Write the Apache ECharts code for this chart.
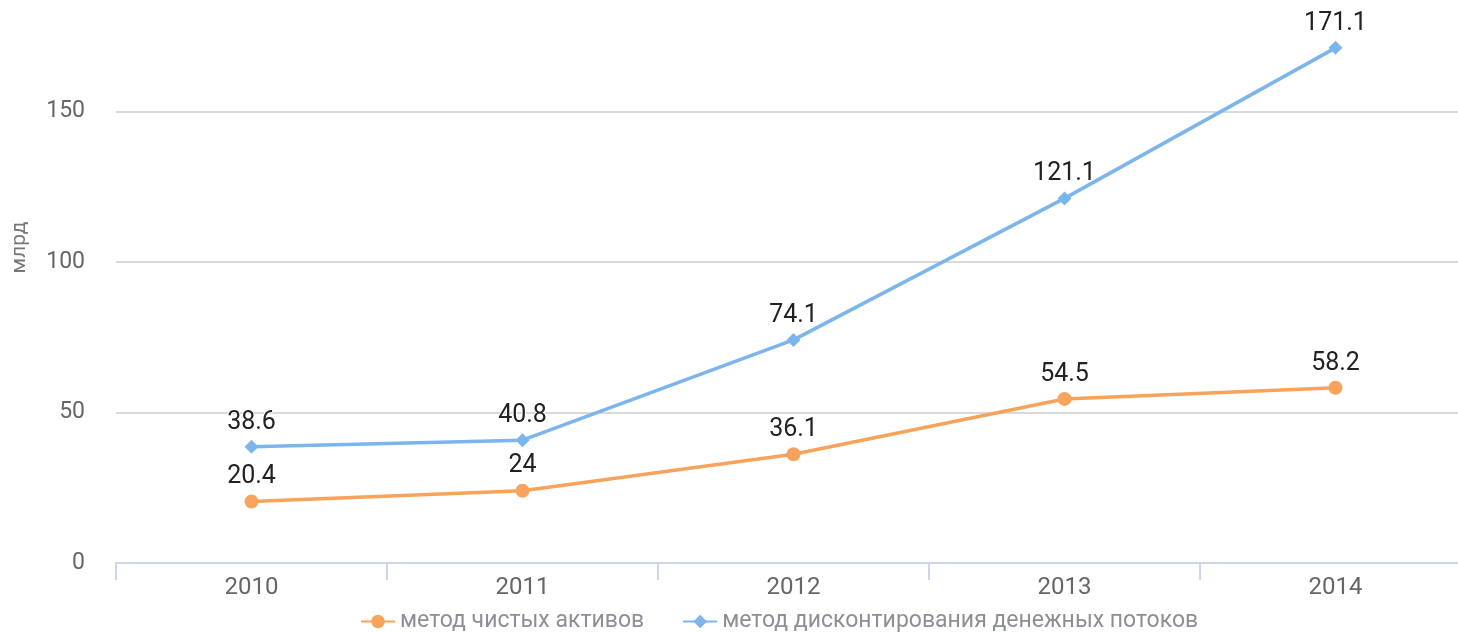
<!DOCTYPE html>
<html>
<head>
<meta charset="utf-8">
<script src="https://cdn.jsdelivr.net/npm/echarts@6/dist/echarts.min.js"></script>
<style>
html,body{margin:0;padding:0;background:#fff;overflow:hidden;width:1458px;height:632px;}
#chart{width:1471px;height:632px;}
</style>
</head>
<body>
<div id="chart"></div>
<script>
var categories = ['2010', '2011', '2012', '2013', '2014'];
var netAssets = [20.4, 24, 36.1, 54.5, 58.2];
var discountedCashFlow = [38.6, 40.8, 74.1, 121.1, 171.1];
var seriesNames = ['метод чистых активов', 'метод дисконтирования денежных потоков'];
var yAxisName = 'млрд';

var chart = echarts.init(document.getElementById('chart'), null, {renderer: 'canvas'});
var font = 'Roboto, "Noto Sans", sans-serif';
var labelStyle = {
  show: true, position: 'top', distance: 5,
  color: '#222', fontSize: 25, fontFamily: font,
  textBorderColor: '#fff', textBorderWidth: 2
};
chart.setOption({
  animation: false,
  grid: {left: 116, right: 0, top: 0, bottom: 69, containLabel: false},
  legend: {
    left: 355, top: 605,
    itemWidth: 34, itemHeight: 17, itemGap: 38,
    textStyle: {color: '#8c8f96', fontSize: 23, fontFamily: font},
    data: seriesNames
  },
  xAxis: {
    type: 'category', data: categories, boundaryGap: true,
    axisLine: {lineStyle: {color: '#ccd6eb', width: 2}},
    axisTick: {show: true, length: 17, lineStyle: {color: '#ccd6eb', width: 2}},
    axisLabel: {color: '#666', fontSize: 24, fontFamily: font, margin: 13}
  },
  yAxis: {
    type: 'value', min: 0, max: 187, interval: 50,
    name: yAxisName, nameLocation: 'middle', nameGap: 86,
    nameTextStyle: {color: '#777', fontSize: 21, fontFamily: font, padding: [0, 0, 0, 68]},
    axisLine: {show: false}, axisTick: {show: false},
    splitLine: {lineStyle: {color: '#d9d9d9', width: 2}, showMaxLine: false},
    axisLabel: {color: '#666', fontSize: 23, fontFamily: font, margin: 31, showMaxLabel: false}
  },
  series: [
    {
      name: seriesNames[0], type: 'line', data: netAssets,
      color: '#f7a35c',
      lineStyle: {width: 3.5},
      symbol: 'circle', symbolSize: 14,
      label: labelStyle
    },
    {
      name: seriesNames[1], type: 'line', data: discountedCashFlow,
      color: '#7cb5ec',
      lineStyle: {width: 3.5},
      symbol: 'diamond', symbolSize: 14,
      label: labelStyle
    }
  ]
});
</script>
</body>
</html>
